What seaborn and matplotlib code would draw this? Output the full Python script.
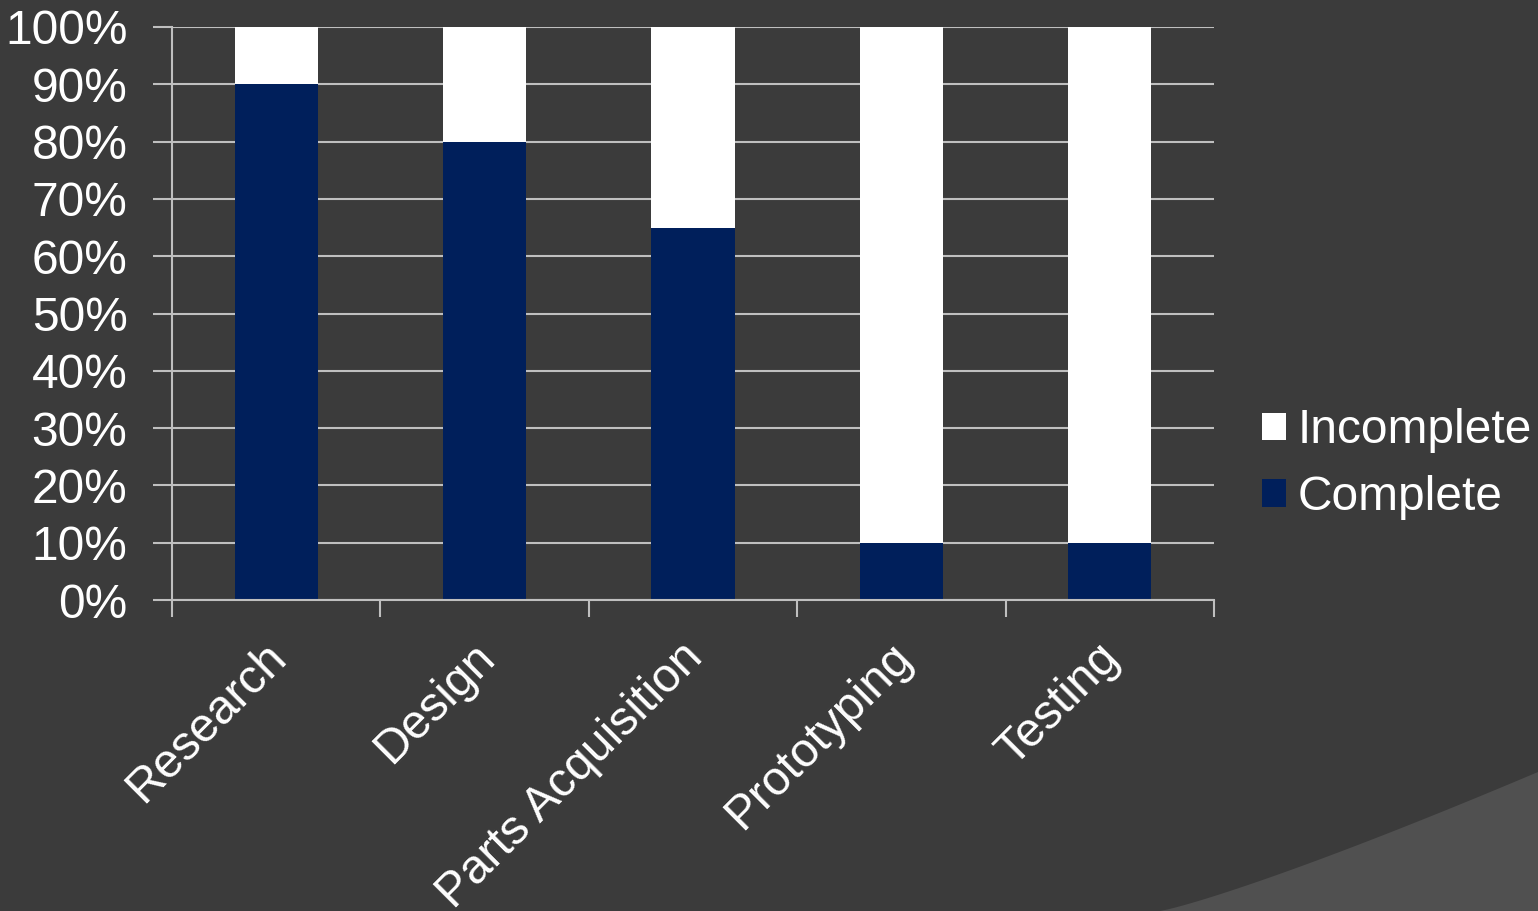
import matplotlib
matplotlib.use("Agg")
import matplotlib.pyplot as plt
from matplotlib.patches import Polygon, Patch
from matplotlib.transforms import ScaledTranslation
import numpy as np
import pandas as pd
import seaborn as sns

# data
stages = ["Research", "Design", "Parts Acquisition", "Prototyping", "Testing"]
complete = [90, 80, 65, 10, 10]
incomplete = [10, 20, 35, 90, 90]

bg = "#3b3b3b"
navy = "#001f5b"
grid_col = "#bfbfbf"

sns.set_theme(style="dark")
plt.rcParams["font.family"] = ["Liberation Sans", "DejaVu Sans"]

df = pd.DataFrame({"stage": stages, "complete": complete, "incomplete": incomplete})
df["total"] = df["complete"] + df["incomplete"]

fig = plt.figure(figsize=(15.38, 9.11), dpi=100, facecolor=bg)

# lighter swoosh in the bottom right corner (slide background)
t = np.linspace(0, 1, 50)
cx = 1160 + (1538 - 1160) * t
cy = 911 - (911 - 772) * (t ** 1.15)
pts = list(zip(cx / 1538, 1 - cy / 911)) + [(1, 0)]
fig.patches.append(Polygon(pts, closed=True, transform=fig.transFigure,
                           facecolor="#505050", edgecolor="none", zorder=0))

ax = fig.add_axes([172 / 1538, 1 - 600 / 911, (1214 - 172) / 1538, (600 - 27) / 911])
ax.set_facecolor(bg)

sns.barplot(data=df, x="stage", y="total", color="white", width=0.4,
            saturation=1, linewidth=0, ax=ax, zorder=3)
sns.barplot(data=df, x="stage", y="complete", color=navy, width=0.4,
            saturation=1, linewidth=0, ax=ax, zorder=4)

ax.set_xlim(-0.5, 4.5)
ax.set_ylim(0, 100)
ax.set_xlabel("")
ax.set_ylabel("")

fs = 34.5

yt = np.arange(0, 101, 10)
ax.set_yticks(yt)
ax.set_yticklabels([f"{v}%" for v in yt])
ax.yaxis.grid(True, color=grid_col, linewidth=1.5, zorder=0)
ax.xaxis.grid(False)
ax.set_axisbelow(True)

# ticks at category boundaries, labels at centers
ax.set_xticks(np.arange(-0.5, 4.6, 1))
ax.set_xticklabels([])
ax.set_xticks(range(len(stages)), minor=True)
ax.set_xticklabels(stages, minor=True, rotation=45, ha="right",
                   rotation_mode="anchor")

ax.tick_params(axis="y", which="major", length=14, width=1.5, color=grid_col,
               labelsize=fs, labelcolor="white", pad=18, left=True)
ax.tick_params(axis="x", which="major", length=12, width=1.5, color=grid_col,
               bottom=True)
ax.tick_params(axis="x", which="minor", length=0, labelsize=fs,
               labelcolor="white", pad=14)

# nudge rotated labels down-left along their baseline
shift = ScaledTranslation(-13 / 100, -15 / 100, fig.dpi_scale_trans)
for lbl in ax.get_xticklabels(minor=True):
    lbl.set_transform(lbl.get_transform() + shift)

for s in ["top", "right"]:
    ax.spines[s].set_visible(False)
for s in ["left", "bottom"]:
    ax.spines[s].set_color(grid_col)
    ax.spines[s].set_linewidth(1.5)
    ax.spines[s].set_zorder(5)

handles = [Patch(facecolor="white", edgecolor="none", label="Incomplete"),
           Patch(facecolor=navy, edgecolor="none", label="Complete")]
leg = ax.legend(handles=handles, loc="center left",
                bbox_to_anchor=(1 + 48 / 1042, 0.237),
                frameon=False, fontsize=fs, labelcolor="white",
                handlelength=0.5, handleheight=0.5, handletextpad=0.25,
                labelspacing=0.45, borderaxespad=0, borderpad=0)

fig.savefig("out.png", dpi=100, facecolor=bg)
